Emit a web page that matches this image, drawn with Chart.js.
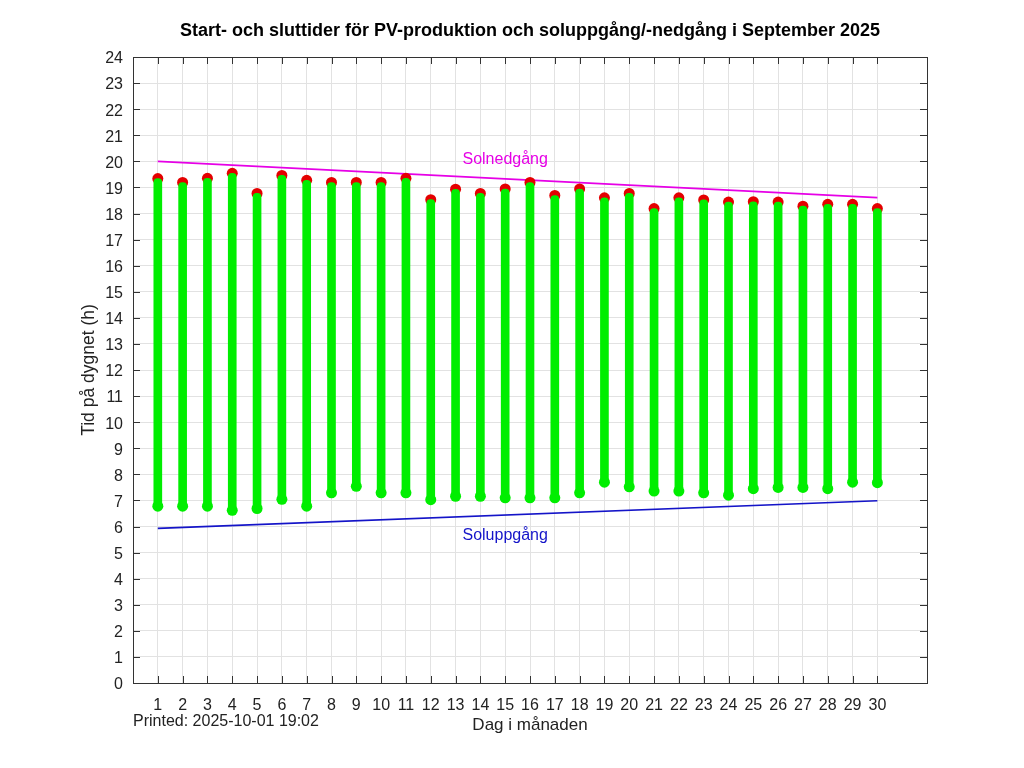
<!DOCTYPE html>
<html>
<head>
<meta charset="utf-8">
<script src="https://cdn.jsdelivr.net/npm/chart.js@4.4.0/dist/chart.umd.min.js"></script>
<style>
  html, body { margin: 0; padding: 0; background: #fff; }
  #wrap { width: 1024px; height: 768px; position: relative; }
</style>
</head>
<body>
<div id="wrap"><canvas id="c" width="1024" height="768"></canvas></div>
<script>
// ---- Data ----
const days = [1,2,3,4,5,6,7,8,9,10,11,12,13,14,15,16,17,18,19,20,21,22,23,24,25,26,27,28,29,30];
const pvStart = [6.78,6.78,6.78,6.62,6.69,7.04,6.78,7.29,7.54,7.29,7.29,7.03,7.16,7.16,7.10,7.10,7.10,7.29,7.70,7.52,7.36,7.36,7.29,7.20,7.45,7.50,7.50,7.45,7.70,7.68];
const pvEnd   = [19.34,19.19,19.35,19.54,18.77,19.46,19.27,19.19,19.19,19.19,19.35,18.53,18.93,18.77,18.94,19.19,18.69,18.94,18.60,18.77,18.19,18.60,18.52,18.44,18.45,18.44,18.28,18.35,18.35,18.19];
const sunDays = [1, 30];
const sunsetValues = [20.0, 18.61];
const sunriseValues = [5.93, 6.99];
const yTicks = [0,1,2,3,4,5,6,7,8,9,10,11,12,13,14,15,16,17,18,19,20,21,22,23,24];
const labelSunset = {x: 15, y: 20.07, text: 'Solnedgång'};
const labelSunrise = {x: 15, y: 5.65, text: 'Soluppgång'};
const titleText = 'Start- och sluttider för PV-produktion och soluppgång/-nedgång i September 2025';
const printedText = 'Printed: 2025-10-01 19:02';

const FONT = "'Liberation Sans', Arial, Helvetica, sans-serif";
const GREEN = 'rgb(0,238,0)';
const RED = 'rgb(228,0,0)';
const MAGENTA = 'rgb(230,0,230)';
const BLUE = 'rgb(20,20,200)';
const AXIS = '#333333';

const barData = days.map((d, i) => ({x: d, y: [pvStart[i], pvEnd[i]]}));
const startPts = days.map((d, i) => ({x: d, y: pvStart[i]}));
const endPts = days.map((d, i) => ({x: d, y: pvEnd[i]}));
const sunsetPts = sunDays.map((d, i) => ({x: d, y: sunsetValues[i]}));
const sunrisePts = sunDays.map((d, i) => ({x: d, y: sunriseValues[i]}));

const decor = {
  id: 'decor',
  afterDatasetsDraw(chart) {
    const {ctx, scales: {x, y}} = chart;
    ctx.save();
    ctx.font = '16px ' + FONT;
    ctx.textAlign = 'center';
    ctx.textBaseline = 'middle';
    ctx.fillStyle = MAGENTA;
    ctx.fillText(labelSunset.text, x.getPixelForValue(labelSunset.x), y.getPixelForValue(labelSunset.y));
    ctx.fillStyle = BLUE;
    ctx.fillText(labelSunrise.text, x.getPixelForValue(labelSunrise.x), y.getPixelForValue(labelSunrise.y));
    ctx.restore();
  },
  afterDraw(chart) {
    const {ctx, chartArea: a, scales: {x, y}} = chart;
    ctx.save();
    ctx.strokeStyle = AXIS;
    ctx.lineWidth = 1;
    const tl = 7;
    ctx.beginPath();
    x.ticks.forEach(t => {
      const px = Math.round(x.getPixelForValue(t.value)) + 0.5;
      ctx.moveTo(px, a.bottom); ctx.lineTo(px, a.bottom - tl);
      ctx.moveTo(px, a.top); ctx.lineTo(px, a.top + tl);
    });
    y.ticks.forEach(t => {
      const py = Math.round(y.getPixelForValue(t.value)) + 0.5;
      ctx.moveTo(a.left, py); ctx.lineTo(a.left + tl, py);
      ctx.moveTo(a.right, py); ctx.lineTo(a.right - tl, py);
    });
    ctx.stroke();
    ctx.strokeRect(Math.round(a.left) + 0.5, Math.round(a.top) + 0.5, Math.round(a.right - a.left), Math.round(a.bottom - a.top));
    // title
    ctx.fillStyle = '#000';
    ctx.font = 'bold 18px ' + FONT;
    ctx.textAlign = 'center';
    ctx.textBaseline = 'middle';
    ctx.fillText(titleText, (a.left + a.right) / 2, 31);
    // printed
    ctx.fillStyle = '#222';
    ctx.font = '16px ' + FONT;
    ctx.textAlign = 'left';
    ctx.textBaseline = 'alphabetic';
    ctx.fillText(printedText, 133, 726);
    ctx.restore();
  }
};

new Chart(document.getElementById('c'), {
  type: 'scatter',
  data: {
    datasets: [
      {
        type: 'bar', label: 'PV', data: barData, backgroundColor: GREEN,
        barThickness: 8, borderRadius: 4, borderSkipped: false, order: 0
      },
      {
        type: 'scatter', label: 'Start', data: startPts, backgroundColor: GREEN, borderColor: GREEN,
        pointRadius: 5.5, borderWidth: 0, order: 1
      },
      {
        type: 'scatter', label: 'Slut', data: endPts, backgroundColor: RED, borderColor: RED,
        pointRadius: 5.5, borderWidth: 0, order: 2
      },
      {
        type: 'line', label: 'Solnedgång', data: sunsetPts, borderColor: MAGENTA, borderWidth: 1.6,
        pointRadius: 0, fill: false, order: 3
      },
      {
        type: 'line', label: 'Soluppgång', data: sunrisePts, borderColor: BLUE, borderWidth: 1.6,
        pointRadius: 0, fill: false, order: 3
      }
    ]
  },
  options: {
    responsive: false,
    animation: false,
    devicePixelRatio: 1,
    layout: { padding: { left: 0, right: 97, top: 57, bottom: 0 } },
    plugins: {
      legend: { display: false },
      tooltip: { enabled: false },
      title: { display: false }
    },
    scales: {
      x: {
        type: 'linear', min: 0, max: 32, offset: false,
        afterBuildTicks(s) {
          s.ticks = days.map(d => ({value: d}));
        },
        afterFit(s) { s.height = 768 - 683; },
        ticks: {
          color: '#222', font: { family: FONT, size: 16 }, padding: 13,
          autoSkip: false, maxRotation: 0,
          callback: v => String(v)
        },
        grid: { color: '#e2e2e2', drawTicks: false, offset: false },
        border: { display: false },
        title: {
          display: true, text: 'Dag i månaden', color: '#222',
          font: { family: FONT, size: 17 }, padding: { top: 0, bottom: 32 }
        }
      },
      y: {
        type: 'linear', min: 0, max: 24,
        afterBuildTicks(s) {
          s.ticks = yTicks.map(v => ({value: v}));
        },
        afterFit(s) { s.width = 133; },
        ticks: {
          color: '#222', font: { family: FONT, size: 16 }, padding: 10, labelOffset: 2,
          autoSkip: false, callback: v => String(v)
        },
        grid: { color: '#e2e2e2', drawTicks: false },
        border: { display: false },
        title: {
          display: true, text: 'Tid på dygnet (h)', color: '#222',
          font: { family: FONT, size: 17.5 }, padding: { top: 79, bottom: 0 }
        }
      }
    }
  },
  plugins: [decor]
});
</script>
</body>
</html>
